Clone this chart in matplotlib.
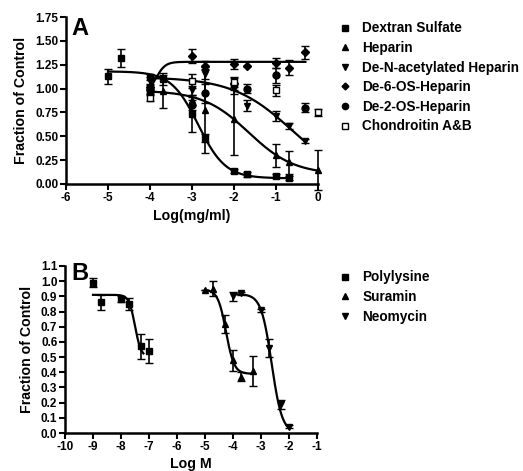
import numpy as np
import matplotlib
matplotlib.use("Agg")
import matplotlib.pyplot as plt
from matplotlib.lines import Line2D

plt.rcParams['font.family'] = ['Liberation Sans', 'DejaVu Sans']
plt.rcParams['font.weight'] = 'bold'

# ---------------- Panel A data ----------------
dex_x = [-5, -4.7, -4, -3.7, -3, -2.7, -2, -1.7, -1, -0.7]
dex_y = [1.13, 1.32, 1.12, 1.10, 0.73, 0.48, 0.14, 0.10, 0.08, 0.06]
dex_e = [0.08, 0.09, 0.03, 0.06, 0.18, 0.04, 0.02, 0.03, 0.02, 0.02]

hep_x = [-4, -3.7, -3, -2.7, -2, -1, -0.7, 0]
hep_y = [0.97, 0.97, 0.88, 0.78, 0.68, 0.30, 0.23, 0.15]
hep_e = [0.03, 0.17, 0.05, 0.45, 0.38, 0.12, 0.12, 0.21]

den_x = [-4, -3, -2.7, -2, -1.7, -1, -0.7, -0.3]
den_y = [1.08, 0.98, 1.15, 1.00, 0.82, 0.71, 0.61, 0.45]
den_e = [0.04, 0.05, 0.05, 0.06, 0.06, 0.05, 0.03, 0.02]

de6_x = [-4, -3, -2.7, -2, -1.7, -1, -0.7, -0.3]
de6_y = [1.02, 1.34, 1.24, 1.26, 1.24, 1.27, 1.22, 1.38]
de6_e = [0.03, 0.07, 0.05, 0.05, 0.0, 0.05, 0.08, 0.07]

de2_x = [-4, -3, -2.7, -2, -1.7, -1, -0.3]
de2_y = [0.98, 0.83, 0.95, 1.05, 1.00, 1.14, 0.80]
de2_e = [0.03, 0.05, 0.10, 0.06, 0.05, 0.08, 0.05]

cho_x = [-4, -3, -2, -1, 0]
cho_y = [0.90, 1.08, 1.07, 0.98, 0.75]
cho_e = [0.03, 0.07, 0.05, 0.06, 0.04]

# sigmoid fit parameters: (left plateau, right plateau, logEC50, hill, x start, x end)
fit_dex = (1.18, 0.06, -2.85, 1.35, -5.0, -0.7)
fit_hep = (0.98, 0.10, -1.65, 0.80, -4.0, 0.0)
fit_den = (1.12, 0.00, -0.61, 0.61, -4.0, -0.3)
fit_de6 = (0.95, 1.28, -3.85, 4.0, -4.0, -0.3)

a_labels = ["Dextran Sulfate", "Heparin", "De-N-acetylated Heparin",
            "De-6-OS-Heparin", "De-2-OS-Heparin", "Chondroitin A&B"]
a_xticks = [-6, -5, -4, -3, -2, -1, 0]
a_yticks = [0.0, 0.25, 0.5, 0.75, 1.0, 1.25, 1.5, 1.75]

# ---------------- Panel B data ----------------
pol_x = [-9, -8.7, -8, -7.7, -7.3, -7]
pol_y = [0.99, 0.86, 0.88, 0.85, 0.57, 0.54]
pol_e = [0.03, 0.05, 0.02, 0.04, 0.08, 0.08]

sur_x = [-5, -4.7, -4.3, -4.0, -3.7, -3.3]
sur_y = [0.94, 0.95, 0.72, 0.48, 0.37, 0.41]
sur_e = [0.0, 0.05, 0.06, 0.07, 0.03, 0.10]

neo_x = [-4, -3.7, -3, -2.7, -2.3, -2]
neo_y = [0.90, 0.92, 0.81, 0.56, 0.19, 0.04]
neo_e = [0.03, 0.01, 0.01, 0.06, 0.03, 0.01]

fit_pol = (0.91, 0.50, -7.5, 4.0, -9.0, -7.2)
fit_sur = (0.945, 0.39, -4.25, 3.0, -5.0, -3.3)
fit_neo = (0.915, 0.00, -2.62, 2.33, -4.0, -2.0)

b_labels = ["Polylysine", "Suramin", "Neomycin"]
b_xticks = list(range(-10, 0))
b_yticks = [round(0.1 * i, 1) for i in range(12)]


def sigmoid(p):
    left, right, c, h, x0, x1 = p
    x = np.linspace(x0, x1, 300)
    return x, right + (left - right) / (1 + 10 ** ((x - c) * h))


W, H = 523, 471
fig = plt.figure(figsize=(W / 100, H / 100), dpi=100)

def px_axes(l, r, t, b):
    return fig.add_axes([l / W, 1 - b / H, (r - l) / W, (b - t) / H])

axA = px_axes(66, 318, 17, 184)
axB = px_axes(65, 317, 266, 433)

lw_sp = 1.8
ms = 5
TICK_FS = 8.5
LABEL_FS = 10.2
LEG_FS = 9.8
eb_kw = dict(color='black', capsize=3, elinewidth=1.2, capthick=1.2, linestyle='none',
             clip_on=False, zorder=3)

def style(ax, xt, yt, xlim, ylim, yfmt):
    for s in ['top', 'right']:
        ax.spines[s].set_visible(False)
    for s in ['left', 'bottom']:
        ax.spines[s].set_linewidth(lw_sp)
    ax.set_xlim(*xlim)
    ax.set_ylim(*ylim)
    ax.set_xticks(xt)
    ax.set_yticks(yt)
    ax.set_yticklabels([yfmt.format(v) for v in yt])
    ax.set_xticklabels([str(v) for v in xt])
    ax.tick_params(direction='out', length=4, width=1.5, labelsize=TICK_FS, pad=1.5)
    for lab in ax.get_xticklabels() + ax.get_yticklabels():
        lab.set_fontweight('bold')
    ax.set_facecolor('none')

# Panel A
series_A = [
    (dex_x, dex_y, dex_e, 's', 'black', ms),
    (hep_x, hep_y, hep_e, '^', 'black', ms),
    (den_x, den_y, den_e, 'v', 'black', ms),
    (de6_x, de6_y, de6_e, 'D', 'black', 4),
    (de2_x, de2_y, de2_e, 'o', 'black', ms),
    (cho_x, cho_y, cho_e, 's', 'white', ms),
]
for p in [fit_dex, fit_hep, fit_den, fit_de6]:
    x, y = sigmoid(p)
    axA.plot(x, y, color='black', lw=1.6, zorder=2, clip_on=False)
handlesA = []
for (x, y, e, m, fc, s), lab in zip(series_A, a_labels):
    axA.errorbar(x, y, yerr=e, fmt=m, markersize=s, markerfacecolor=fc,
                 markeredgecolor='black', markeredgewidth=1.0, **eb_kw)
    handlesA.append(Line2D([], [], linestyle='none', marker=m, markersize=s - 0.5,
                           markerfacecolor=fc, markeredgecolor='black', markeredgewidth=1.0))
style(axA, a_xticks, a_yticks, (-6, 0), (0, 1.75), "{:.2f}")
axA.set_xlabel("Log(mg/ml)", fontsize=LABEL_FS, fontweight='bold', labelpad=4)
axA.set_ylabel("Fraction of Control", fontsize=LABEL_FS, fontweight='bold', labelpad=5)
fig.text(71 / W, 1 - 17 / H, "A", fontsize=17, fontweight='bold', ha='left', va='top')
fig.legend(handlesA, a_labels, loc='upper left', bbox_to_anchor=(338 / W, 1 - 21.5 / H),
           frameon=False, handlelength=1.0, handletextpad=0.8,
           labelspacing=0.41, borderaxespad=0, borderpad=0,
           prop={'weight': 'bold', 'size': LEG_FS})

# Panel B
series_B = [
    (pol_x, pol_y, pol_e, 's', 'black', ms),
    (sur_x, sur_y, sur_e, '^', 'black', ms),
    (neo_x, neo_y, neo_e, 'v', 'black', ms),
]
for p in [fit_pol, fit_sur, fit_neo]:
    x, y = sigmoid(p)
    axB.plot(x, y, color='black', lw=1.6, zorder=2)
handlesB = []
for (x, y, e, m, fc, s), lab in zip(series_B, b_labels):
    axB.errorbar(x, y, yerr=e, fmt=m, markersize=s, markerfacecolor=fc,
                 markeredgecolor='black', markeredgewidth=1.0, **eb_kw)
    handlesB.append(Line2D([], [], linestyle='none', marker=m, markersize=s - 0.5,
                           markerfacecolor=fc, markeredgecolor='black', markeredgewidth=1.0))
style(axB, b_xticks, b_yticks, (-10, -1), (0, 1.1), "{:.1f}")
axB.set_xlabel("Log M", fontsize=LABEL_FS, fontweight='bold', labelpad=3)
axB.set_ylabel("Fraction of Control", fontsize=LABEL_FS, fontweight='bold', labelpad=5)
fig.text(71 / W, 1 - 262 / H, "B", fontsize=17, fontweight='bold', ha='left', va='top')
fig.legend(handlesB, b_labels, loc='upper left', bbox_to_anchor=(338 / W, 1 - 270.5 / H),
           frameon=False, handlelength=1.0, handletextpad=0.8,
           labelspacing=0.41, borderaxespad=0, borderpad=0,
           prop={'weight': 'bold', 'size': LEG_FS})

fig.savefig("out.png", dpi=100)
